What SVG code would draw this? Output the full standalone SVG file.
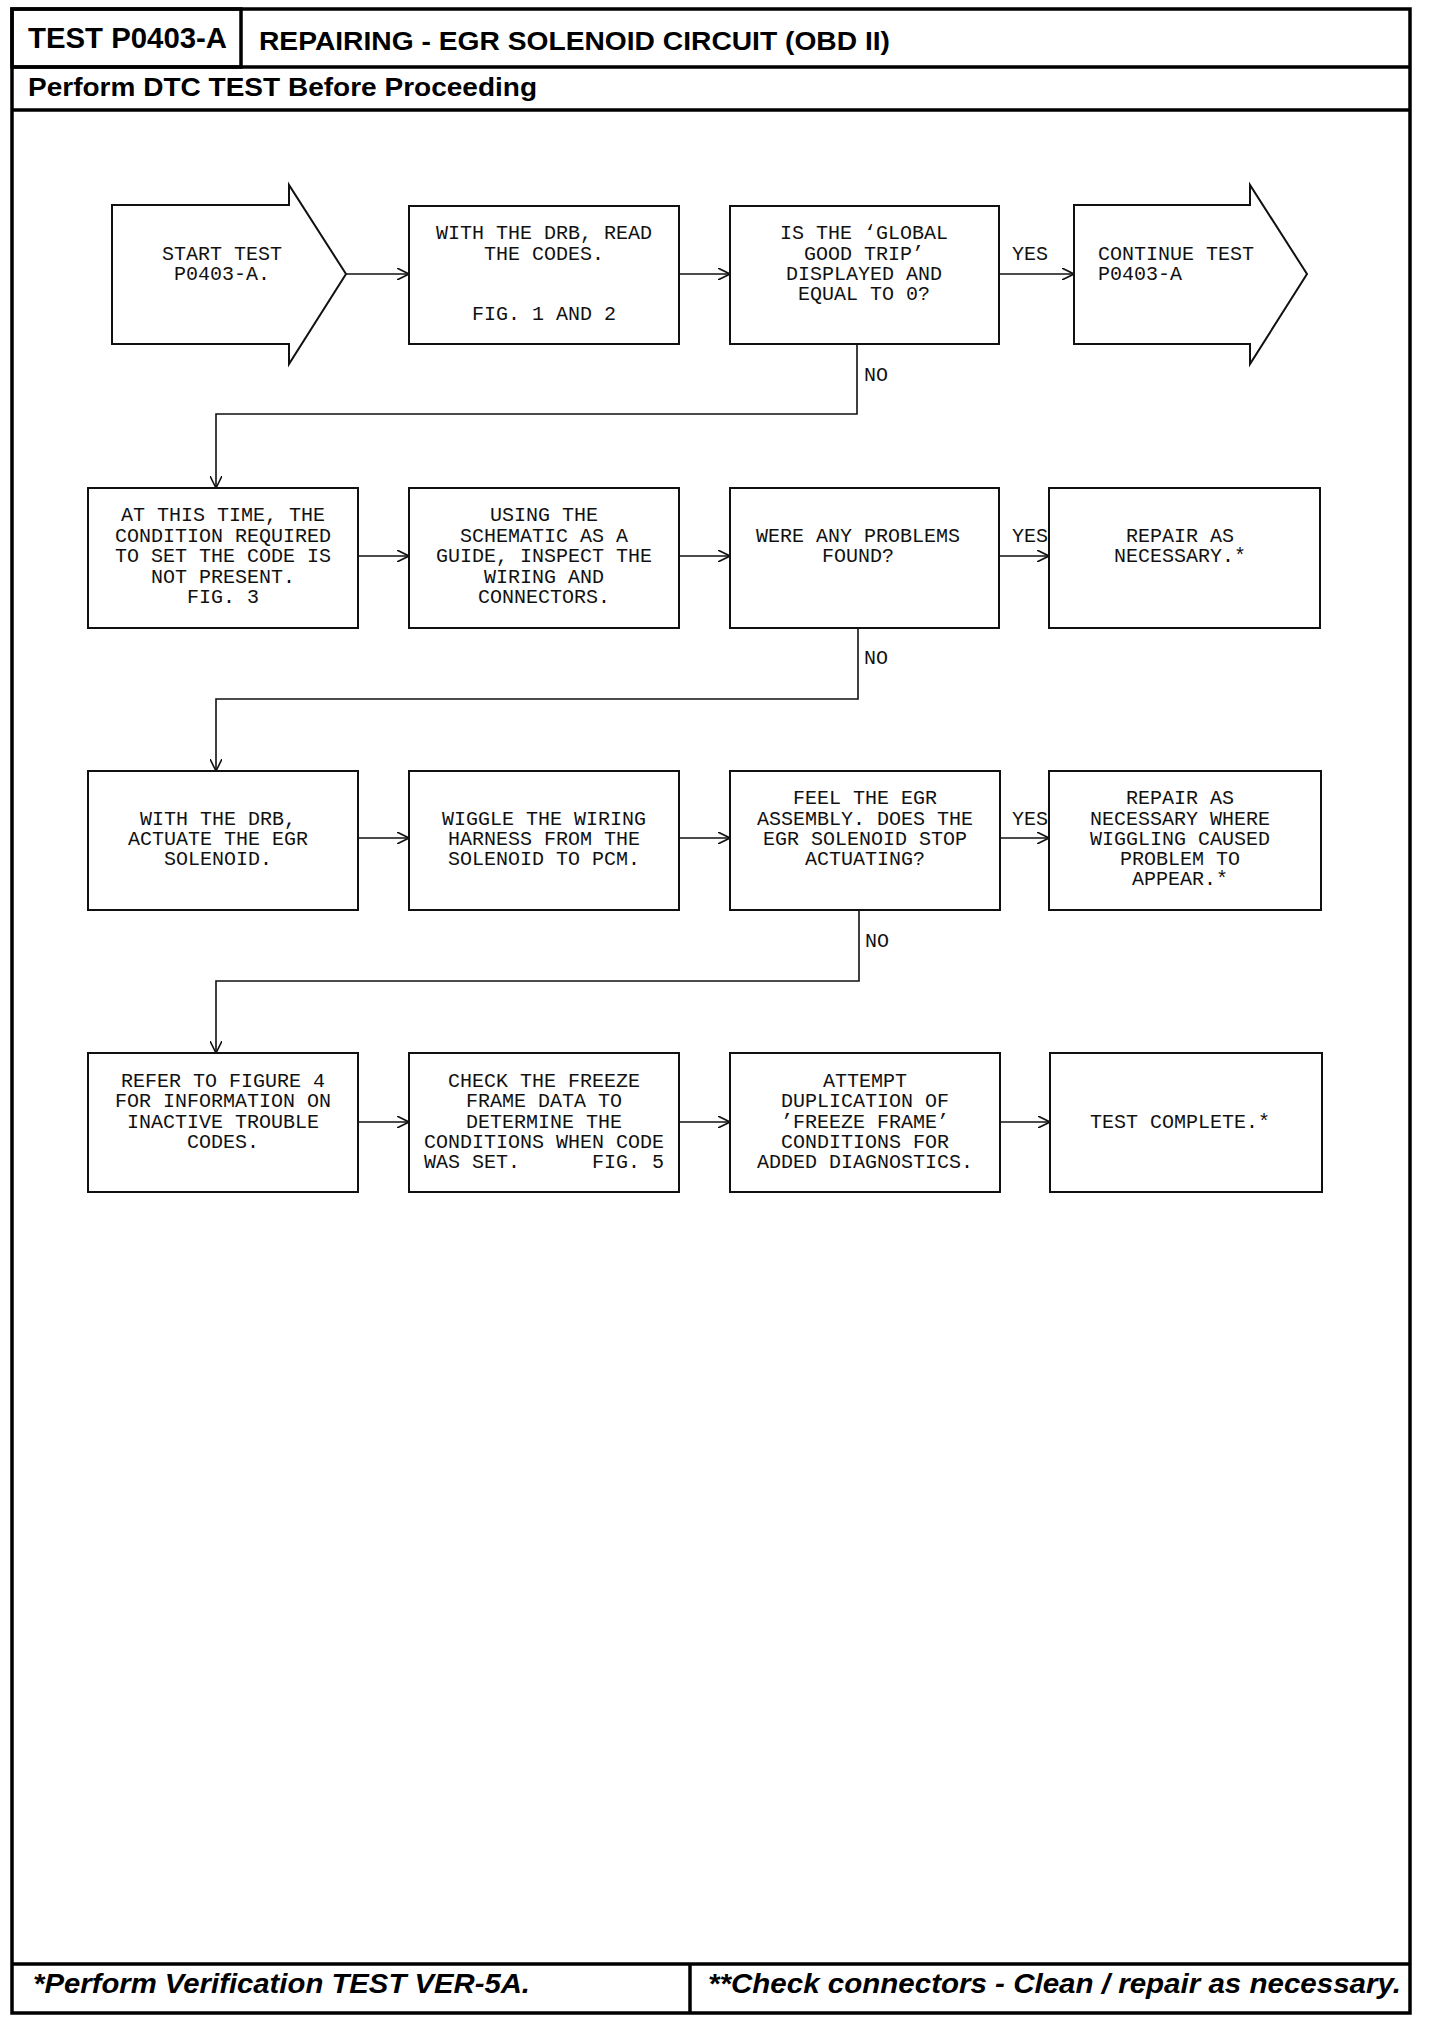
<svg xmlns="http://www.w3.org/2000/svg" width="1440" height="2028" viewBox="0 0 1440 2028">
<style>
.frame{fill:none;stroke:#000;stroke-width:3.5}
.box{fill:#fff;stroke:#111;stroke-width:2}
.conn{fill:none;stroke:#111;stroke-width:1.6}
.t{font-family:"Liberation Mono","Courier New",monospace;font-size:20px;fill:#111;text-anchor:middle}
.l{font-family:"Liberation Mono","Courier New",monospace;font-size:20px;fill:#111}
.h{font-family:"Liberation Sans",Arial,sans-serif;font-weight:bold;fill:#000}
.f{font-family:"Liberation Sans",Arial,sans-serif;font-weight:bold;font-style:italic;fill:#000;font-size:28px}
</style>
<defs>
<marker id="ah" viewBox="0 0 12 12" refX="12" refY="6" markerWidth="12" markerHeight="12" markerUnits="userSpaceOnUse" orient="auto">
<path d="M0,0 L12,6 L0,12" fill="none" stroke="#111" stroke-width="1.6"/>
</marker>
</defs>
<rect width="1440" height="2028" fill="#fff"/>
<g id="frame">
<rect class="frame" x="12" y="9" width="1398" height="2004"/>
<rect class="frame" x="12" y="9" width="229" height="58" stroke-width="2.5"/>
<line class="frame" x1="12" y1="67" x2="1410" y2="67" stroke-width="2.5"/>
<line class="frame" x1="12" y1="110" x2="1410" y2="110"/>
<line class="frame" x1="12" y1="1964" x2="1410" y2="1964"/>
<line class="frame" x1="690" y1="1964" x2="690" y2="2013"/>
<text class="h" x="28" y="48" font-size="29" textLength="199" lengthAdjust="spacingAndGlyphs">TEST P0403-A</text>
<text class="h" x="259" y="50" font-size="26" textLength="631" lengthAdjust="spacingAndGlyphs">REPAIRING - EGR SOLENOID CIRCUIT (OBD II)</text>
<text class="h" x="28" y="96" font-size="26" textLength="509" lengthAdjust="spacingAndGlyphs">Perform DTC TEST Before Proceeding</text>
<text class="f" x="33" y="1993" textLength="497" lengthAdjust="spacingAndGlyphs">*Perform Verification TEST VER-5A.</text>
<text class="f" x="708" y="1993" textLength="693" lengthAdjust="spacingAndGlyphs">**Check connectors - Clean / repair as necessary.</text>
</g>
<g id="connectors">
<line class="conn" x1="346" y1="274" x2="409" y2="274" marker-end="url(#ah)"/>
<line class="conn" x1="679" y1="274" x2="730" y2="274" marker-end="url(#ah)"/>
<line class="conn" x1="999" y1="274" x2="1074" y2="274" marker-end="url(#ah)"/>
<polyline class="conn" points="857,344 857,414 216,414 216,488" marker-end="url(#ah)"/>
<line class="conn" x1="358" y1="556" x2="409" y2="556" marker-end="url(#ah)"/>
<line class="conn" x1="679" y1="556" x2="730" y2="556" marker-end="url(#ah)"/>
<line class="conn" x1="999" y1="556" x2="1049" y2="556" marker-end="url(#ah)"/>
<polyline class="conn" points="858,628 858,699 216,699 216,771" marker-end="url(#ah)"/>
<line class="conn" x1="358" y1="838" x2="409" y2="838" marker-end="url(#ah)"/>
<line class="conn" x1="679" y1="838" x2="730" y2="838" marker-end="url(#ah)"/>
<line class="conn" x1="999" y1="838" x2="1049" y2="838" marker-end="url(#ah)"/>
<polyline class="conn" points="859,910 859,981 216,981 216,1053" marker-end="url(#ah)"/>
<line class="conn" x1="358" y1="1122" x2="409" y2="1122" marker-end="url(#ah)"/>
<line class="conn" x1="679" y1="1122" x2="730" y2="1122" marker-end="url(#ah)"/>
<line class="conn" x1="1000" y1="1122" x2="1050" y2="1122" marker-end="url(#ah)"/>
<text class="l" x="1012" y="260">YES</text>
<text class="l" x="864" y="381">NO</text>
<text class="l" x="1012" y="542">YES</text>
<text class="l" x="864" y="664">NO</text>
<text class="l" x="1012" y="825">YES</text>
<text class="l" x="865" y="947">NO</text>
</g>
<g id="start">
<path class="box" d="M112,205 L289,205 L289,185 L346,274 L289,364 L289,344 L112,344 Z"/>
<text class="t" x="222" y="260">START TEST</text>
<text class="t" x="222" y="280">P0403-A.</text>
</g>
<g id="read-codes">
<rect class="box" x="409" y="206" width="270" height="138"/>
<text class="t" x="544" y="239">WITH THE DRB, READ</text>
<text class="t" x="544" y="260">THE CODES.</text>
<text class="t" x="544" y="320">FIG. 1 AND 2</text>
</g>
<g id="global-good-trip">
<rect class="box" x="730" y="206" width="269" height="138"/>
<text class="t" x="864" y="239">IS THE ‘GLOBAL</text>
<text class="t" x="864" y="260">GOOD TRIP’</text>
<text class="t" x="864" y="280">DISPLAYED AND</text>
<text class="t" x="864" y="300">EQUAL TO 0?</text>
</g>
<g id="continue">
<path class="box" d="M1074,205 L1250,205 L1250,185 L1307,274 L1250,364 L1250,344 L1074,344 Z"/>
<text class="l" x="1098" y="260">CONTINUE TEST</text>
<text class="l" x="1098" y="280">P0403-A</text>
</g>
<g id="condition-not-present">
<rect class="box" x="88" y="488" width="270" height="140"/>
<text class="t" x="223" y="521">AT THIS TIME, THE</text>
<text class="t" x="223" y="542">CONDITION REQUIRED</text>
<text class="t" x="223" y="562">TO SET THE CODE IS</text>
<text class="t" x="223" y="583">NOT PRESENT.</text>
<text class="t" x="223" y="603">FIG. 3</text>
</g>
<g id="inspect-wiring">
<rect class="box" x="409" y="488" width="270" height="140"/>
<text class="t" x="544" y="521">USING THE</text>
<text class="t" x="544" y="542">SCHEMATIC AS A</text>
<text class="t" x="544" y="562">GUIDE, INSPECT THE</text>
<text class="t" x="544" y="583">WIRING AND</text>
<text class="t" x="544" y="603">CONNECTORS.</text>
</g>
<g id="problems-found">
<rect class="box" x="730" y="488" width="269" height="140"/>
<text class="t" x="858" y="542">WERE ANY PROBLEMS</text>
<text class="t" x="858" y="562">FOUND?</text>
</g>
<g id="repair-1">
<rect class="box" x="1049" y="488" width="271" height="140"/>
<text class="t" x="1180" y="542">REPAIR AS</text>
<text class="t" x="1180" y="562">NECESSARY.*</text>
</g>
<g id="actuate-egr">
<rect class="box" x="88" y="771" width="270" height="139"/>
<text class="t" x="218" y="825">WITH THE DRB,</text>
<text class="t" x="218" y="845">ACTUATE THE EGR</text>
<text class="t" x="218" y="865">SOLENOID.</text>
</g>
<g id="wiggle">
<rect class="box" x="409" y="771" width="270" height="139"/>
<text class="t" x="544" y="825">WIGGLE THE WIRING</text>
<text class="t" x="544" y="845">HARNESS FROM THE</text>
<text class="t" x="544" y="865">SOLENOID TO PCM.</text>
</g>
<g id="feel-egr">
<rect class="box" x="730" y="771" width="270" height="139"/>
<text class="t" x="865" y="804">FEEL THE EGR</text>
<text class="t" x="865" y="825">ASSEMBLY. DOES THE</text>
<text class="t" x="865" y="845">EGR SOLENOID STOP</text>
<text class="t" x="865" y="865">ACTUATING?</text>
</g>
<g id="repair-2">
<rect class="box" x="1049" y="771" width="272" height="139"/>
<text class="t" x="1180" y="804">REPAIR AS</text>
<text class="t" x="1180" y="825">NECESSARY WHERE</text>
<text class="t" x="1180" y="845">WIGGLING CAUSED</text>
<text class="t" x="1180" y="865">PROBLEM TO</text>
<text class="t" x="1180" y="885">APPEAR.*</text>
</g>
<g id="refer-figure-4">
<rect class="box" x="88" y="1053" width="270" height="139"/>
<text class="t" x="223" y="1087">REFER TO FIGURE 4</text>
<text class="t" x="223" y="1107">FOR INFORMATION ON</text>
<text class="t" x="223" y="1128">INACTIVE TROUBLE</text>
<text class="t" x="223" y="1148">CODES.</text>
</g>
<g id="freeze-frame">
<rect class="box" x="409" y="1053" width="270" height="139"/>
<text class="t" x="544" y="1087">CHECK THE FREEZE</text>
<text class="t" x="544" y="1107">FRAME DATA TO</text>
<text class="t" x="544" y="1128">DETERMINE THE</text>
<text class="t" x="544" y="1148">CONDITIONS WHEN CODE</text>
<text class="t" x="544" y="1168" xml:space="preserve">WAS SET.      FIG. 5</text>
</g>
<g id="duplicate">
<rect class="box" x="730" y="1053" width="270" height="139"/>
<text class="t" x="865" y="1087">ATTEMPT</text>
<text class="t" x="865" y="1107">DUPLICATION OF</text>
<text class="t" x="865" y="1128">’FREEZE FRAME’</text>
<text class="t" x="865" y="1148">CONDITIONS FOR</text>
<text class="t" x="865" y="1168">ADDED DIAGNOSTICS.</text>
</g>
<g id="test-complete">
<rect class="box" x="1050" y="1053" width="272" height="139"/>
<text class="t" x="1180" y="1128">TEST COMPLETE.*</text>
</g>
</svg>
